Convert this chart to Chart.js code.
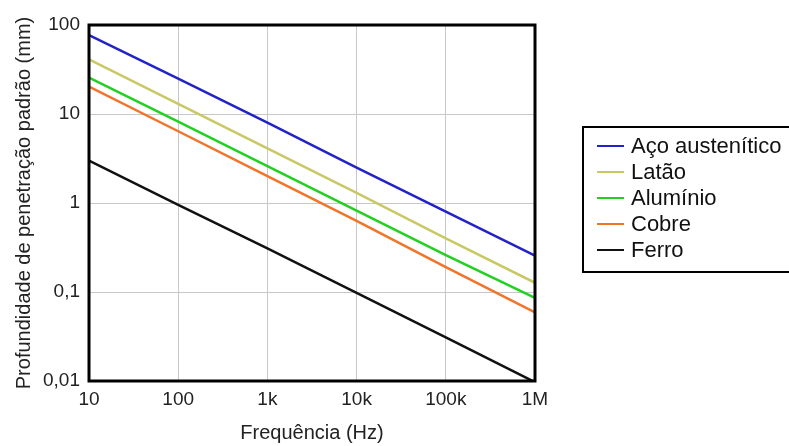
<!DOCTYPE html>
<html>
<head>
<meta charset="utf-8">
<script src="https://cdn.jsdelivr.net/npm/chart.js@4.4.1/dist/chart.umd.min.js"></script>
<style>
  body { margin: 0; background: #fff; }
  #wrap { position: relative; width: 789px; height: 446px; overflow: hidden; }
  #legend {
    position: absolute; left: 582px; top: 126px; width: 220px; height: 147px;
    box-sizing: border-box; border: 2px solid #000; padding: 5px 0 0 13px;
    font-family: Arial, "Liberation Sans", sans-serif; font-size: 22px; color: #111;
  }
  #legend div { height: 25.9px; line-height: 25.9px; white-space: nowrap; }
  #legend span.swatch { display: inline-block; width: 27px; height: 2px; vertical-align: middle; margin-right: 7px; position: relative; top: -1px; }
</style>
</head>
<body>
<div id="wrap">
  <canvas id="chart" width="789" height="446"></canvas>
  <div id="legend"></div>
</div>
<script>
const frequencies = [10, 100, 1000, 10000, 100000, 1000000];
const acoAustenitico = [77, 25, 8.0, 2.5, 0.80, 0.256];
const latao = [41, 13, 4.1, 1.3, 0.40, 0.127];
const aluminio = [25.6, 8.2, 2.6, 0.82, 0.26, 0.086];
const cobre = [20.3, 6.4, 2.0, 0.63, 0.19, 0.059];
const ferro = [3.0, 0.95, 0.31, 0.098, 0.031, 0.0097];

const xTickLabels = ['10', '100', '1k', '10k', '100k', '1M'];
const yTicks = [0.01, 0.1, 1, 10, 100];
const yTickLabels = ['0,01', '0,1', '1', '10', '100'];

const model = [
  { label: 'Aço austenítico', color: '#2222c8', values: acoAustenitico },
  { label: 'Latão', color: '#c8c864', values: latao },
  { label: 'Alumínio', color: '#22d022', values: aluminio },
  { label: 'Cobre', color: '#f0742a', values: cobre },
  { label: 'Ferro', color: '#111111', values: ferro },
];

const datasets = model.map((m) => ({
  label: m.label,
  data: frequencies.map((f, i) => ({ x: f, y: m.values[i] })),
  borderColor: m.color,
  backgroundColor: m.color,
  borderWidth: 2.5,
  pointRadius: 0,
  fill: false,
  tension: 0,
}));

const frame = {
  id: 'frame',
  afterDraw(chart) {
    const { ctx, chartArea } = chart;
    ctx.save();
    ctx.strokeStyle = '#000';
    ctx.lineWidth = 3;
    ctx.strokeRect(chartArea.left, chartArea.top, chartArea.right - chartArea.left, chartArea.bottom - chartArea.top);
    ctx.restore();
  },
};

const family = 'Arial, "Liberation Sans", sans-serif';
const tickFont = { family, size: 19 };
const titleFont = { family, size: 20 };

new Chart(document.getElementById('chart'), {
  type: 'line',
  data: { datasets },
  plugins: [frame],
  options: {
    responsive: false,
    animation: false,
    layout: { padding: { top: 25, right: 254, left: 0, bottom: 0 } },
    plugins: { legend: { display: false }, tooltip: { enabled: false } },
    scales: {
      x: {
        type: 'logarithmic',
        min: 10,
        max: 1000000,
        afterBuildTicks: (scale) => { scale.ticks = frequencies.map((v) => ({ value: v })); },
        afterFit: (scale) => { scale.height = 65; },
        ticks: {
          color: '#222',
          font: tickFont,
          padding: 7,
          maxRotation: 0,
          callback: (v) => xTickLabels[frequencies.indexOf(v)],
        },
        grid: { color: '#c8c8c8', lineWidth: 1, drawTicks: false },
        border: { display: false },
        title: { display: true, text: 'Frequência (Hz)', color: '#222', font: titleFont, padding: { top: 0, bottom: 1 } },
      },
      y: {
        type: 'logarithmic',
        min: 0.01,
        max: 100,
        afterBuildTicks: (scale) => { scale.ticks = yTicks.map((v) => ({ value: v })); },
        afterFit: (scale) => { scale.width = 89; },
        ticks: {
          color: '#222',
          font: tickFont,
          padding: 9,
          callback: (v) => yTickLabels[yTicks.indexOf(v)],
        },
        grid: { color: '#c8c8c8', lineWidth: 1, drawTicks: false },
        border: { display: false },
        title: { display: true, text: 'Profundidade de penetração padrão (mm)', color: '#222', font: titleFont, padding: { top: 12, bottom: 0 } },
      },
    },
  },
});

const legend = document.getElementById('legend');
model.forEach((m) => {
  const row = document.createElement('div');
  row.innerHTML = `<span class="swatch" style="background:${m.color}"></span>${m.label}`;
  legend.appendChild(row);
});
</script>
</body>
</html>
